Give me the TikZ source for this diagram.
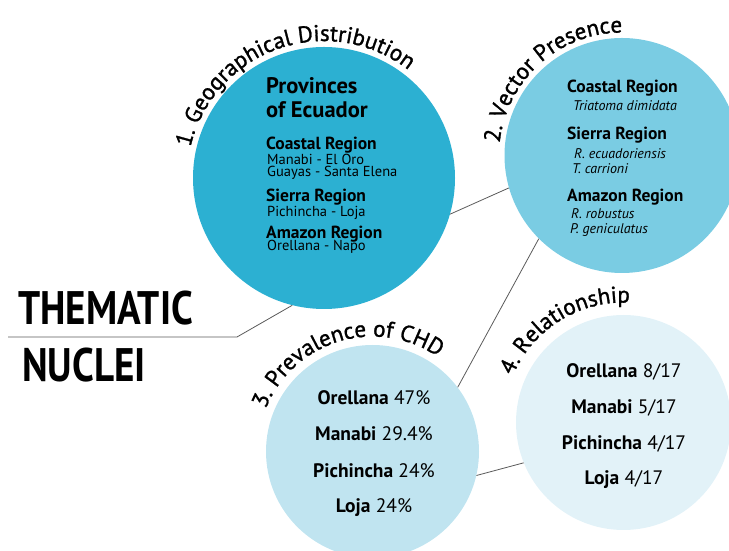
\documentclass[tikz,border=0pt]{standalone}
\usepackage{fontspec}
\setmainfont{PT Sans}
\newfontfamily\condfont[FakeStretch=0.83]{PT Sans}
\newfontfamily\arcfont[FakeBold=1.2]{PT Sans}
\usetikzlibrary{decorations.text}
\definecolor{geoblue}{HTML}{2CB0D2}
\definecolor{vecblue}{HTML}{7ACCE3}
\definecolor{prevblue}{HTML}{C0E4F0}
\definecolor{relblue}{HTML}{E2F2F8}
\definecolor{linkgray}{HTML}{5A5A5A}

\begin{document}
\begin{tikzpicture}[x=1pt, y=1pt,
    nucleus/.style={circle, inner sep=0pt, draw=none},
    title/.style={anchor=base west, inner sep=0pt, font=\bfseries\fontsize{22.5}{23}\selectfont},
    head/.style={anchor=base west, inner sep=0pt, font=\bfseries\fontsize{17.5}{18}\selectfont},
    item/.style={anchor=base west, inner sep=0pt, font=\fontsize{14.5}{15}\selectfont},
    species/.style={anchor=base west, inner sep=0pt, font=\itshape\fontsize{14}{15}\selectfont},
    datum/.style={anchor=base, inner sep=0pt, font=\fontsize{19.5}{20}\selectfont},
    theme/.style={anchor=base west, inner sep=0pt, font=\condfont\bfseries\fontsize{47}{48}\selectfont},
    link/.style={draw=linkgray, line width=0.8pt},
    arclabel/.style={decorate, decoration={text along path, text align=center,
      text={|\arcfont\fontsize{23}{23}\selectfont|#1}}}
  ]
  \useasboundingbox (0,0) rectangle (729,551);
  \node[nucleus, fill=geoblue, minimum size=262pt] (geo) at (324,373) {};
  \node[nucleus, fill=vecblue, minimum size=235pt] (vec) at (622,395.5) {};
  \node[nucleus, fill=prevblue, minimum size=213pt] (prev) at (372.5,99.5) {};
  \node[nucleus, fill=relblue, minimum size=215pt] (rel) at (623.5,128.5) {};

  \path[arclabel={1. Geographical Distribution}] ([shift={(189.5:137)}]geo.center) arc[start angle=189.5, end angle=29.5, radius=137];
  \path[arclabel={2. Vector Presence}] ([shift={(212:123)}]vec.center) arc[start angle=212, end angle=52, radius=123];
  \path[arclabel={3. Prevalence of CHD}] ([shift={(186.8:115)}]prev.center) arc[start angle=186.8, end angle=26.8, radius=115];
  \path[arclabel={4. Relationship}] ([shift={(202:120)}]rel.center) arc[start angle=202, end angle=42, radius=120];

  \node[title] (prov) at (266,457) {Provinces};
  \node[title] (ecu) at (266,433) {of Ecuador};
  \node[head] (gcoast) at (266,401) {Coastal Region};
  \node[item] (gcoast1) at (267,386) {Manabi - El Oro};
  \node[item] (gcoast2) at (267,374) {Guayas - Santa Elena};
  \node[head] (gsierra) at (266,349) {Sierra Region};
  \node[item] (gsierra1) at (267,334) {Pichincha - Loja};
  \node[head] (gamaz) at (266,312) {Amazon Region};
  \node[item] (gamaz1) at (267,300.5) {Orellana - Napo};

  \node[head] (vcoast) at (567,458) {Coastal Region};
  \node[species] (vcoast1) at (573,440) {Triatoma dimidata};
  \node[head] (vsierra) at (567,411) {Sierra Region};
  \node[species] (vsierra1) at (574,392) {R. ecuadoriensis};
  \node[species] (vsierra2) at (572,377.7) {T. carrioni};
  \node[head] (vamaz) at (567,349.3) {Amazon Region};
  \node[species] (vamaz1) at (571,332.7) {R. robustus};
  \node[species] (vamaz2) at (570,317.7) {P. geniculatus};

  \node[datum] (porel) at (374,146) {\textbf{Orellana} 47\%};
  \node[datum] (pman) at (374,110) {\textbf{Manabi} 29.4\%};
  \node[datum] (ppich) at (374,73.3) {\textbf{Pichincha} 24\%};
  \node[datum] (ploja) at (374,38.3) {\textbf{Loja} 24\%};

  \node[datum] (rorel) at (624,173.7) {\textbf{Orellana} 8/17};
  \node[datum] (rman) at (624,137.7) {\textbf{Manabi} 5/17};
  \node[datum] (rpich) at (624,101.7) {\textbf{Pichincha} 4/17};
  \node[datum] (rloja) at (624,66.7) {\textbf{Loja} 4/17};

  \node[theme] (them) at (18,226) {THEMATIC};
  \node[theme] (nucl) at (22,169.3) {NUCLEI};

  \coordinate (tail) at (8,214);
  \coordinate (bend) at (237,214);
  \draw[link] (tail) -- (bend) -- (geo.256);
  \draw[link] (geo.-16) -- (vec.196);
  \draw[link] (prev.37) -- (vec.225);
  \draw[link] (prev.-13) -- (rel.202);
\end{tikzpicture}
\end{document}
